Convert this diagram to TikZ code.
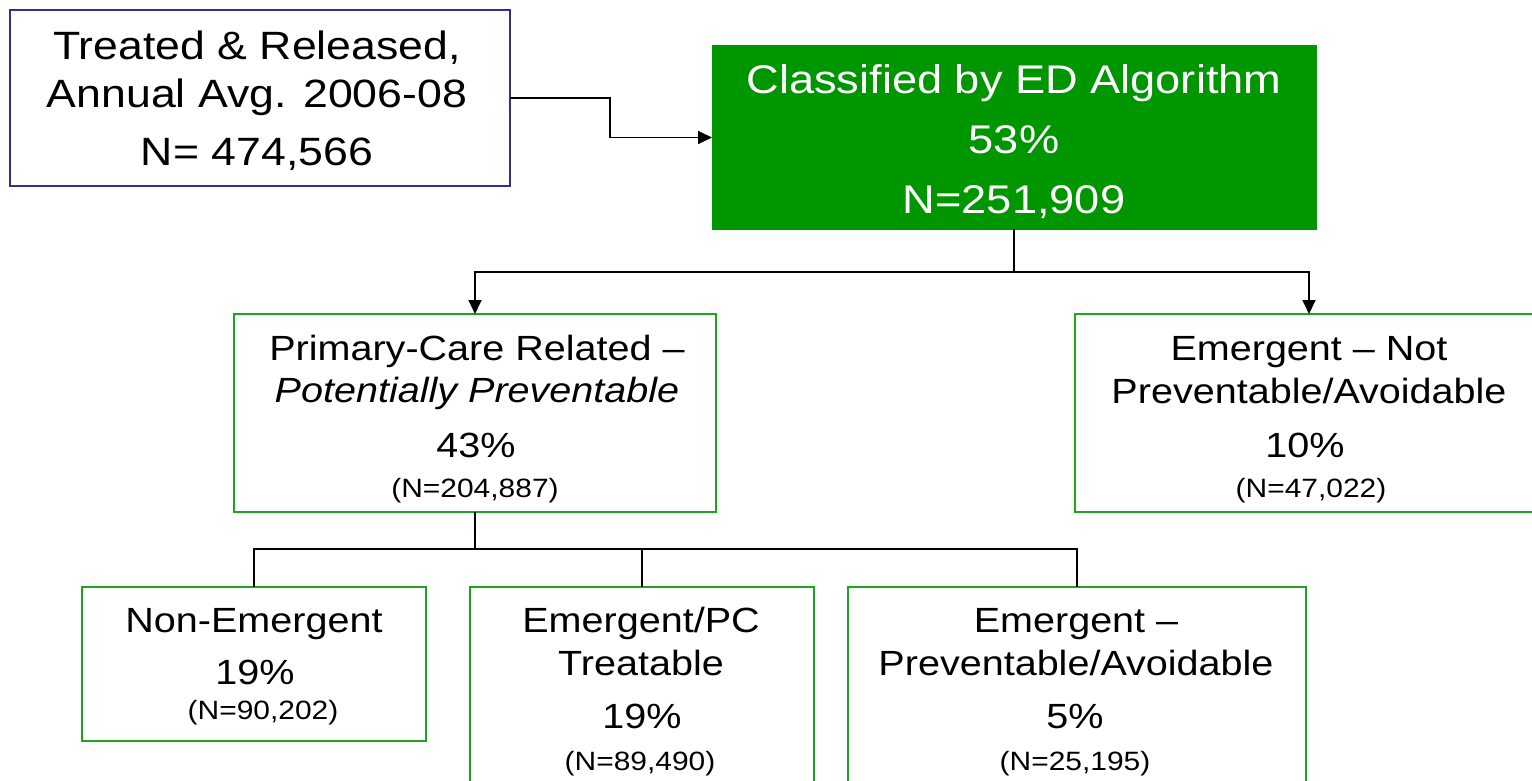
\documentclass[tikz,border=0pt]{standalone}
\usepackage{fontspec}
\setmainfont{Liberation Sans}[FakeStretch=1.13]
\usetikzlibrary{arrows.meta}
\definecolor{boxgreen}{RGB}{0,150,0}
\definecolor{edgegreen}{RGB}{30,165,30}
\definecolor{navyedge}{RGB}{50,50,140}
\tikzset{
  gbox/.style={draw=edgegreen, line width=1.5pt, inner sep=0pt, outer sep=0pt},
  bbox/.style={draw=navyedge, line width=1.5pt, inner sep=0pt, outer sep=0pt, fill=white},
  fbox/.style={fill=boxgreen, draw=boxgreen, line width=1pt, inner sep=0pt, outer sep=0pt},
  big/.style={inner sep=0pt, anchor=base, font=\fontsize{39.5}{44}\selectfont},
  bigw/.style={inner sep=0pt, anchor=base, text=white, font=\fontsize{40}{44}\selectfont},
  mid/.style={inner sep=0pt, anchor=base, font=\fontsize{35}{40}\selectfont},
  small/.style={inner sep=0pt, anchor=base, font=\fontsize{26.5}{30}\selectfont},
  conn/.style={draw=black, line width=1.8pt},
  arr/.style={conn, -{Triangle[length=14pt,width=13pt]}}
}
\begin{document}
\begin{tikzpicture}[x=1pt,y=-1pt]
\useasboundingbox (0,0) rectangle (1532,781);
% boxes
\node[bbox, minimum width=500pt, minimum height=176pt] (b1) at (260,98) {};
\node[fbox, minimum width=604pt, minimum height=183pt] (b2) at (1014,137.5) {};
\node[gbox, minimum width=482pt, minimum height=198pt] (b3) at (475,413) {};
\node[gbox, minimum width=468pt, minimum height=198pt] (b4) at (1309,413) {};
\node[gbox, minimum width=344pt, minimum height=154pt] (b5) at (254,664) {};
\node[gbox, minimum width=344pt, minimum height=213pt] (b6) at (642,693.5) {};
\node[gbox, minimum width=458pt, minimum height=213pt] (b7) at (1077,693.5) {};
% texts
\node[big] (t1a) at (257,60) {Treated \& Released,};
\node[big] (t1b) at (257,108) {Annual Avg. 2006-08};
\node[big] (t1c) at (257,166) {N= 474,566};
\node[bigw] (t2a) at (1014,94) {Classified by ED Algorithm};
\node[bigw] (t2b) at (1014,154) {53\%};
\node[bigw] (t2c) at (1014,213) {N=251,909};
\node[mid] (t3a) at (477,360) {Primary-Care Related –};
\node[mid] (t3b) at (477,402) {\itshape Potentially Preventable};
\node[mid] (t3c) at (476,457) {43\%};
\node[small] (t3d) at (475,497) {(N=204,887)};
\node[mid] (t4a) at (1309,360) {Emergent – Not};
\node[mid] (t4b) at (1309,403) {Preventable/Avoidable};
\node[mid] (t4c) at (1305,457) {10\%};
\node[small] (t4d) at (1311,497) {(N=47,022)};
\node[mid] (t5a) at (254,632) {Non-Emergent};
\node[mid] (t5b) at (255,684) {19\%};
\node[small] (t5c) at (263,719) {(N=90,202)};
\node[mid] (t6a) at (641,632) {Emergent/PC};
\node[mid] (t6b) at (641,675) {Treatable};
\node[mid] (t6c) at (642,728) {19\%};
\node[small] (t6d) at (640,770) {(N=89,490)};
\node[mid] (t7a) at (1076,632) {Emergent –};
\node[mid] (t7b) at (1076,675) {Preventable/Avoidable};
\node[mid] (t7c) at (1075,728) {5\%};
\node[small] (t7d) at (1075,770) {(N=25,195)};
% connectors
\coordinate (k1) at (610,98);
\draw[arr] (b1.east) -- (k1) |- (b2.west);
\coordinate (j1) at (1014,272);
\draw[conn] (b2.south) -- (j1);
\draw[arr] (j1) -| (b3.north);
\draw[arr] (j1) -| (b4.north);
\coordinate (j2) at (475,549);
\draw[conn] (b3.south) -- (j2);
\draw[conn] (j2) -| (b5.north);
\draw[conn] (j2) -| (b6.north);
\draw[conn] (j2) -| (b7.north);
\end{tikzpicture}
\end{document}
